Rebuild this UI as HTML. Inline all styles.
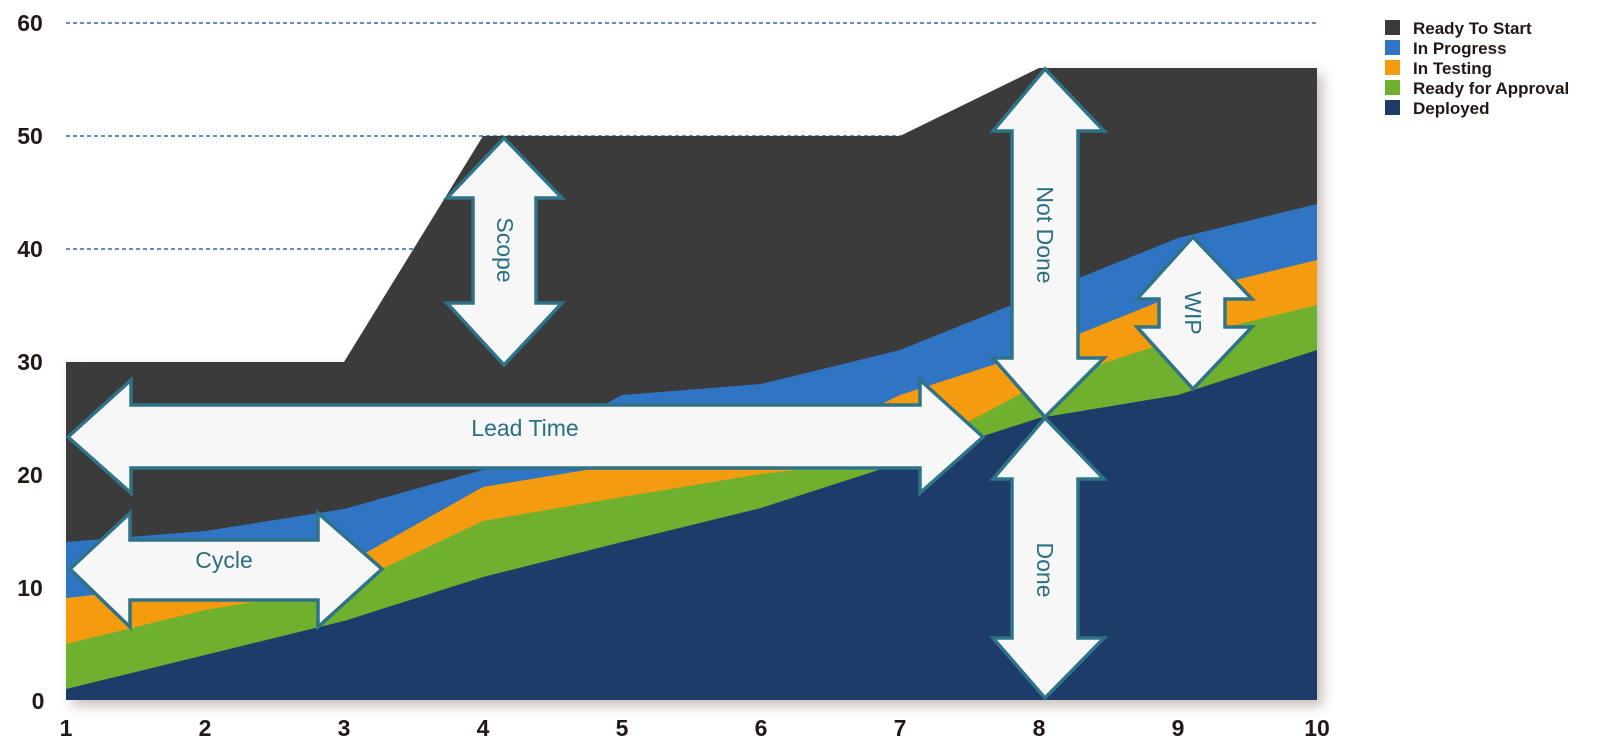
<!DOCTYPE html>
<html><head><meta charset="utf-8"><style>
html,body{margin:0;padding:0;background:#fff;}
svg{display:block;}
text{font-family:"Liberation Sans",sans-serif;}
</style></head><body>
<svg width="1600" height="750" viewBox="0 0 1600 750" xmlns="http://www.w3.org/2000/svg">
<defs>
<filter id="sh" x="-5%" y="-5%" width="115%" height="115%">
<feDropShadow dx="6" dy="6" stdDeviation="6" flood-color="#6b4a3a" flood-opacity="0.35"/>
</filter>
</defs>
<!-- gridlines -->
<g stroke="#2a6db5" stroke-width="1.5" stroke-dasharray="4,3">
<line x1="66" y1="23" x2="1318" y2="23"/>
<line x1="66" y1="136" x2="1318" y2="136"/>
<line x1="66" y1="249" x2="1318" y2="249"/>
</g>
<!-- areas: x(i)=66+139(i-1), y(v)=700-11.28v -->
<g filter="url(#sh)">
<polygon fill="#3a3a3a" points="66,700 66,362 344,362 483,136 622,136 761,136 900,136 1039,68 1178,68 1317,68 1317,700"/>
</g>
<polygon fill="#3074c4" points="66,700 66,542 205,531 344,509 483,470 622,395 761,384 900,350 1039,294 1178,238 1317,204 1317,700"/>
<polygon fill="#f59b10" points="66,700 66,598 205,583 344,565 483,487 622,464 761,463 900,395 1039,350 1178,294 1317,260 1317,700"/>
<polygon fill="#6fb12e" points="66,700 66,644 205,610 344,587 483,521 622,497 761,474 900,458 1039,384 1178,339 1317,305 1317,700"/>
<polygon fill="#1e3c69" points="66,700 66,689 205,655 344,621 483,577 622,542 761,508 900,463 1039,418 1178,395 1317,350 1317,700"/>
<!-- axis labels -->
<g font-size="23" font-weight="bold" fill="#231815" text-anchor="middle">
<text x="30" y="31">60</text>
<text x="30" y="144">50</text>
<text x="30" y="257">40</text>
<text x="30" y="370">30</text>
<text x="30" y="483">20</text>
<text x="30" y="596">10</text>
<text x="38" y="709">0</text>
<text x="66" y="736">1</text>
<text x="205" y="736">2</text>
<text x="344" y="736">3</text>
<text x="483" y="736">4</text>
<text x="622" y="736">5</text>
<text x="761" y="736">6</text>
<text x="900" y="736">7</text>
<text x="1039" y="736">8</text>
<text x="1178" y="736">9</text>
<text x="1317" y="736">10</text>
</g>
<!-- legend -->
<g font-size="17" font-weight="bold" fill="#231815">
<rect x="1385" y="20" width="15" height="15" fill="#3a3a3a"/><text x="1413" y="34">Ready To Start</text>
<rect x="1385" y="40" width="15" height="15" fill="#3074c4"/><text x="1413" y="54">In Progress</text>
<rect x="1385" y="60" width="15" height="15" fill="#f59b10"/><text x="1413" y="74">In Testing</text>
<rect x="1385" y="80" width="15" height="15" fill="#6fb12e"/><text x="1413" y="94">Ready for Approval</text>
<rect x="1385" y="100" width="15" height="15" fill="#1e3c69"/><text x="1413" y="114">Deployed</text>
</g>
<!-- arrows -->
<g fill="#f7f7f7" stroke="#2e7387" stroke-width="3.5" stroke-linejoin="miter">
<polygon points="68,437 131,380 131,405 920,405 920,380 983,437 920,493 920,468 131,468 131,493"/>
<polygon points="70,569 130,513 130,540 318,540 318,513 382,569 318,627 318,600 130,600 130,627"/>
<polygon points="504,138 562,198 536,198 536,303 562,303 504,365 447,303 473,303 473,198 447,198"/>
<polygon points="1045,69 1104,131 1078,131 1078,358 1104,358 1045,417 993,358 1012,358 1012,131 993,131"/>
<polygon points="1045,418 1104,479 1078,479 1078,638 1104,638 1045,698 993,638 1012,638 1012,479 993,479"/>
<polygon points="1193,237 1252,299 1225,299 1225,327 1252,327 1193,389 1137,327 1159,327 1159,299 1137,299"/>
</g>
<g font-size="23" fill="#2a6f82" text-anchor="middle">
<text x="525" y="436">Lead Time</text>
<text x="224" y="568">Cycle</text>
<text transform="translate(497,250) rotate(90)" y="0">Scope</text>
<text transform="translate(1037,235) rotate(90)">Not Done</text>
<text transform="translate(1037,570) rotate(90)">Done</text>
<text transform="translate(1185,313) rotate(90)">WIP</text>
</g>
</svg>
</body></html>
